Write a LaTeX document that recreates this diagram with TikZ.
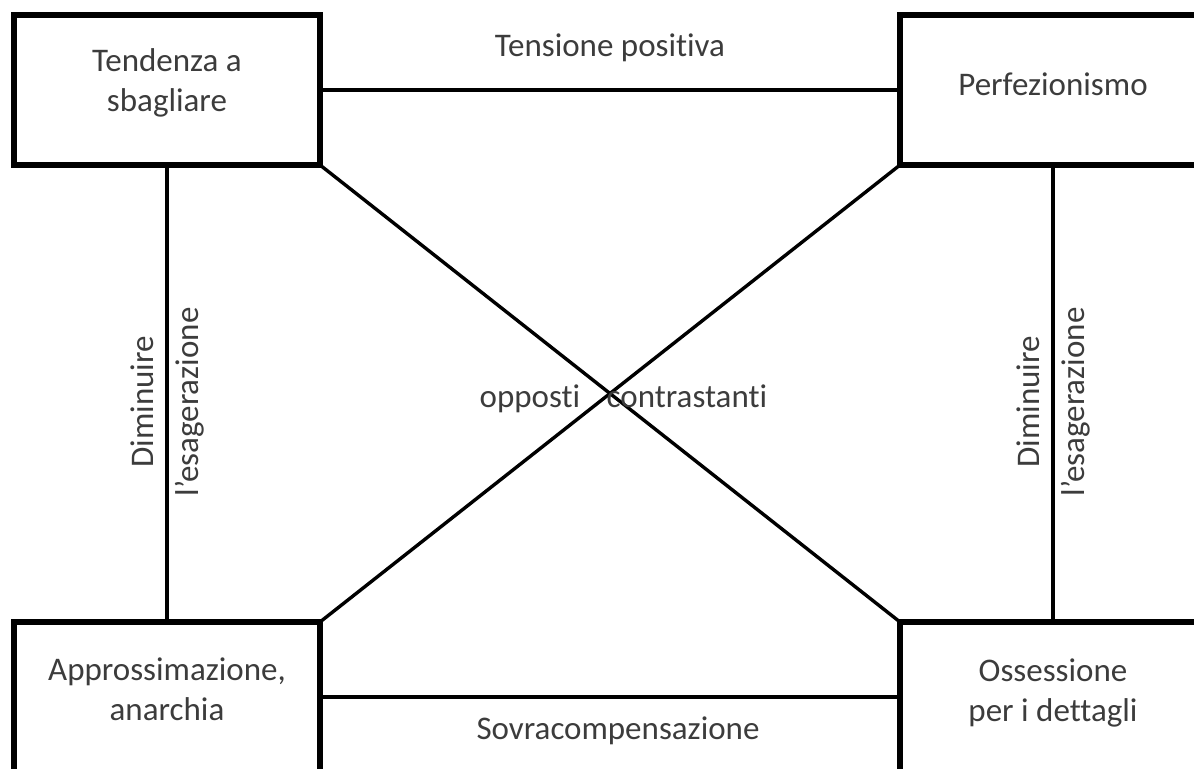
\documentclass[tikz,border=0pt]{standalone}
\usepackage{fontspec}
\setmainfont{Carlito}[Ligatures={NoCommon,NoContextual}]
\usetikzlibrary{positioning}
\definecolor{textgray}{RGB}{60,60,60}
\newcommand{\boxlines}[2][3pt]{\raisebox{#1}[\height][\depth]{\begin{tabular}{@{}c@{}}#2\end{tabular}}}
\tikzstyle{box} = [rectangle, draw, line width=2.6pt, outer sep=0pt, minimum width=153pt, minimum height=75pt, text=textgray, font=\fontsize{16.5}{20}\selectfont]
\tikzstyle{hline} = [draw, line width=2.2pt]
\tikzstyle{vline} = [draw, line width=1.9pt]
\tikzstyle{cross} = [draw, line width=1.7pt]
\tikzstyle{lbl} = [inner sep=0pt, text=textgray, font=\fontsize{16.5}{20}\selectfont]
\tikzstyle{vlbl} = [lbl, rotate=90, align=center, font=\fontsize{16.5}{22.5}\selectfont]

\begin{document}
\begin{tikzpicture}[x=0.5pt, y=-0.5pt]
    \useasboundingbox (0,0) rectangle (1194,769);
    \clip (0,0) rectangle (1194,769);
    \node [box] (tl) at (167,90) {\boxlines{Tendenza a\\sbagliare}};
    \node [box, right=290pt of tl] (tr) {\boxlines[1pt]{Perfezionismo}};
    \node [box, below=228.5pt of tl] (bl) {\boxlines[2pt]{Approssimazione,\\anarchia}};
    \node [box, below=228.5pt of tr] (br) {\boxlines[1.5pt]{Ossessione\\per i dettagli}};
    \path [hline] (tl.east) --node[lbl, above=13pt]{Tensione positiva} (tr.west);
    \path [hline] (bl.east) --node[lbl, below=9pt, xshift=4pt]{Sovracompensazione} (br.west);
    \path [vline] (tl.south) --node[vlbl, pos=0.525, xshift=1.5pt]{Diminuire\\l’esagerazione} (bl.north);
    \path [vline] (tr.south) --node[vlbl, pos=0.525, xshift=1.5pt]{Diminuire\\l’esagerazione} (br.north);
    \path [cross] (tl.south east) --node[lbl, anchor=base east, xshift=-14pt, yshift=-7pt]{opposti} (br.north west);
    \path [cross] (tr.south west) --node[lbl, anchor=base west, xshift=-2.5pt, yshift=-7pt]{contrastanti} (bl.north east);
\end{tikzpicture}
\end{document}
